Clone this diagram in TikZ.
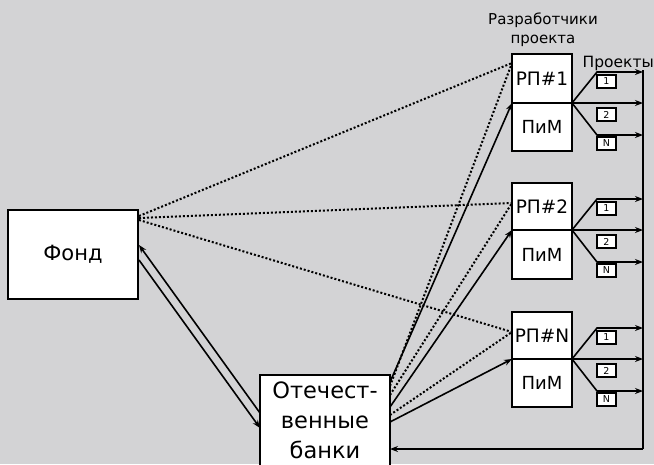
\documentclass[tikz,border=0pt]{standalone}
\usepackage{fontspec}
\setmainfont{DejaVu Sans}
\usetikzlibrary{arrows.meta,calc}
\definecolor{bg}{RGB}{211,211,213}
\tikzset{
  box/.style={draw=black, fill=white, line width=2pt, inner sep=0pt, outer sep=0pt},
  lbl/.style={box, line width=1.3pt, minimum width=19pt, minimum height=13pt, font=\fontsize{9.5}{10}\selectfont, anchor=north west},
  ln/.style={line width=1.6pt, draw=black},
  arr/.style={ln, -{Stealth[length=8pt,width=6pt]}},
  dot/.style={line width=2pt, dash pattern=on 2pt off 2pt},
  txt/.style={inner sep=0pt, anchor=base}
}
\begin{document}
\begin{tikzpicture}[x=1pt,y=-1pt]
\fill[bg] (0,0) rectangle (654,464);
\useasboundingbox (0,0) rectangle (654,464);

\node[box, minimum width=130pt, minimum height=89pt, font=\fontsize{21}{25}\selectfont] (fond) at (73,254.5) {Фонд};
\node[box, minimum width=130pt, minimum height=91pt, align=center, font=\fontsize{22.5}{30}\selectfont] (bank) at (325,420.5) {Отечест-\\венные\\банки};

\foreach \n/\t/\m/\b in {1/54/103/151, 2/183/230/279, N/312/359/407}{
  \node[box, minimum width=60pt, minimum height={\m-\t}, font=\fontsize{18.5}{22}\selectfont] (rp\n) at (542,{(\t+\m)/2}) {РП\#\n};
  \node[box, minimum width=60pt, minimum height={\b-\m}, font=\fontsize{18}{22}\selectfont] (pim\n) at (542,{(\m+\b)/2}) {ПиМ};
}

\node[txt, font=\fontsize{15}{18}\selectfont] (dev1) at (543,24) {Разработчики};
\node[txt, font=\fontsize{15}{18}\selectfont] (dev2) at (543,43) {проекта};
\node[txt, font=\fontsize{15.5}{18}\selectfont, anchor=base east] (proj) at (654,67) {Проекты};

% bus
\coordinate (bustop) at (643,70);
\coordinate (busbot) at (643,449);
\draw[ln] (bustop) -- (busbot);
\draw[arr] (busbot) -- ($(bank.north east)+(0,74)$);

% branches
\foreach \n/\m in {1/103, 2/230, N/359}{
  \coordinate (up\n) at (597,\m-31);
  \coordinate (lo\n) at (597,\m+32);
  \coordinate (e1\n) at (643,\m-31);
  \coordinate (e2\n) at (643,\m);
  \coordinate (e3\n) at (643,\m+32);
  \draw[arr] (rp\n.south east) -- (up\n) -- (e1\n);
  \draw[arr] (rp\n.south east) -- (e2\n);
  \draw[arr] (rp\n.south east) -- (lo\n) -- (e3\n);
  \node[lbl] (b1\n) at ($(up\n)+(0,3)$) {1};
  \node[lbl] (b2\n) at ($(rp\n.south east)+(25,5)$) {2};
  \node[lbl] (b3\n) at ($(lo\n)+(0,2)$) {N};
}

% fond <-> bank
\draw[arr] ($(bank.north west)+(0,38)$) -- ($(fond.north east)+(1,35)$);
\draw[arr] ($(fond.north east)+(1,50)$) -- ($(bank.north west)+(0,53)$);

% dotted from fond
\draw[dot] ($(fond.north east)+(1,6)$) -- ($(rp1.north west)+(0,9)$);
\draw[dot] ($(fond.north east)+(1,8)$) -- ($(rp2.north west)+(0,20)$);
\draw[dot] ($(fond.north east)+(1,10)$) -- ($(rpN.north west)+(0,20)$);

% dotted from bank
\draw[dot] ($(bank.north east)+(0,11)$) -- ($(rp1.north west)+(0,9)$);
\draw[dot] ($(bank.north east)+(0,20)$) -- ($(rp2.north west)+(0,20)$);
\draw[dot] ($(bank.north east)+(0,40)$) -- ($(rpN.north west)+(0,20)$);

% solid from bank
\draw[arr] ($(bank.north east)+(0,7)$) -- (rp1.south west);
\draw[arr] ($(bank.north east)+(0,32)$) -- (rp2.south west);
\draw[arr] ($(bank.north east)+(0,47)$) -- (rpN.south west);
\end{tikzpicture}
\end{document}
